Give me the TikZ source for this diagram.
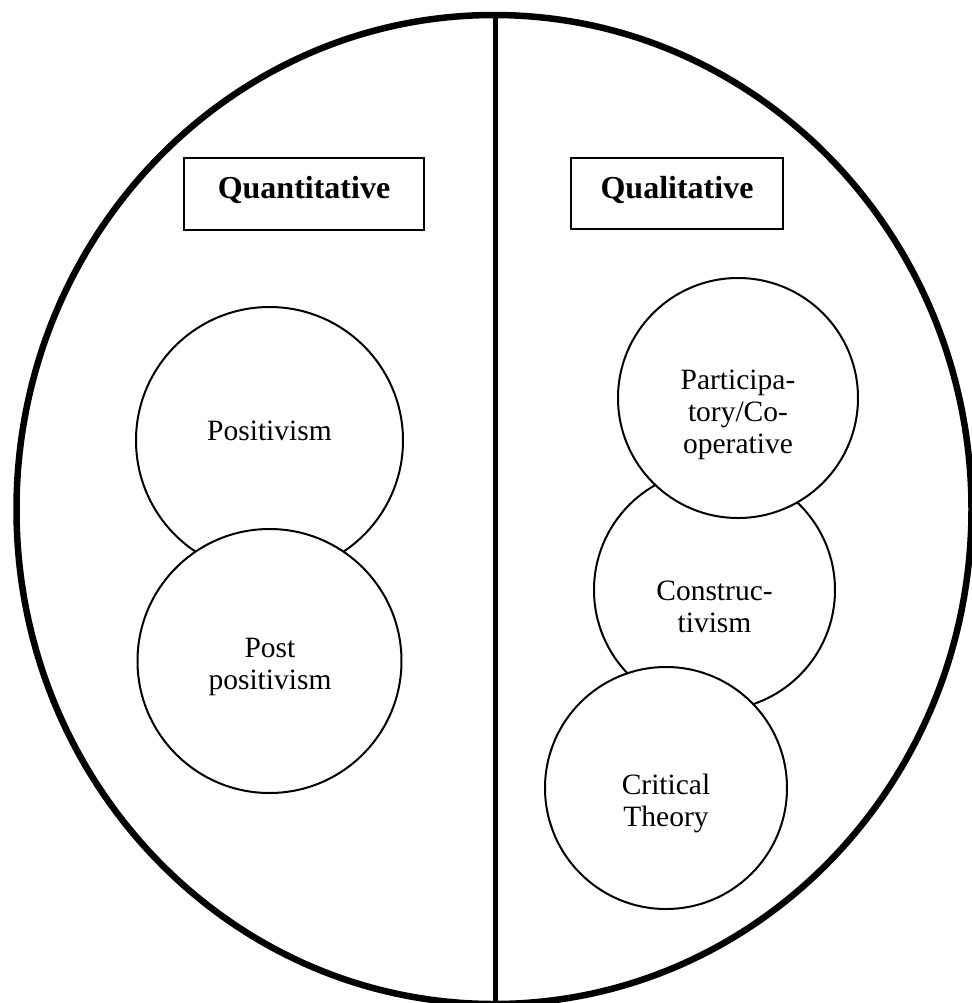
\documentclass[tikz,border=0pt]{standalone}
\usepackage{fontspec}
\setmainfont{Liberation Serif}
\usetikzlibrary{shapes.geometric}
\begin{document}
\begin{tikzpicture}[x=0.5pt,y=-0.5pt,
  frame/.style={draw=black, line width=1pt, rectangle, inner sep=0pt},
  headtext/.style={font=\fontsize{16}{19}\selectfont\bfseries, anchor=base},
  paradigm/.style={draw=black, line width=1pt, circle, inner sep=0pt},
  ptext/.style={font=\fontsize{14.75}{16}\selectfont, align=center, inner sep=0pt},
  outer/.style={draw=black, line width=3.25pt},
  divider/.style={draw=black, line width=2.5pt}]
\useasboundingbox (0,0) rectangle (972,1003);
\fill[white] (0,0) rectangle (972,1003);
% outer ellipse
\draw[outer] (494,509.5) ellipse [x radius=477.5, y radius=494.5];
\coordinate (top) at (495,16);
\coordinate (bottom) at (495,1010);
\draw[divider] (top) -- (bottom);
% heading boxes
\node[frame, minimum width=240*0.5pt, minimum height=72*0.5pt] (qbox) at (304,194) {};
\node[headtext] (qtext) at (304,198) {Quantitative};
\node[frame, minimum width=212*0.5pt, minimum height=71*0.5pt] (lbox) at (677,193.5) {};
\node[headtext] (ltext) at (677,198) {Qualitative};
% left circles
\node[paradigm, minimum size=267*0.5pt] (pos) at (269.5,440.5) {};
\node[paradigm, fill=white, minimum size=264*0.5pt] (post) at (269.5,661) {};
\node[ptext, anchor=base] (postext) at (269.5,440) {Positivism};
\node[ptext] (posttext) at (270,666.5) {Post\\positivism};
% right circles
\node[paradigm, minimum size=241*0.5pt] (cons) at (714.5,590) {};
\node[paradigm, fill=white, minimum size=240*0.5pt] (part) at (738,398) {};
\node[paradigm, fill=white, minimum size=242*0.5pt] (crit) at (666,788) {};
\node[ptext] (parttext) at (738,415) {Participa-\\tory/Co-\\operative};
\node[ptext] (constext) at (714.5,606.5) {Construc-\\tivism};
\node[ptext] (crittext) at (666,803) {Critical\\Theory};
\end{tikzpicture}
\end{document}
